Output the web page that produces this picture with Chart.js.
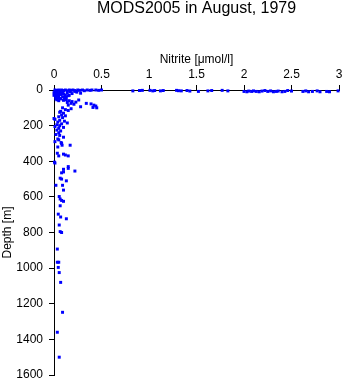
<!DOCTYPE html>
<html>
<head>
<meta charset="utf-8">
<script src="https://cdn.jsdelivr.net/npm/chart.js@4/dist/chart.umd.min.js"></script>
<style>
    html, body { margin: 0; padding: 0; background: #fff; }
    #chart { display: block; }
</style>
</head>
<body>
<canvas id="chart" width="345" height="384"></canvas>
<script>
var chartTitle = 'MODS2005 in August, 1979',
    xTitle = 'Nitrite [\u03bcmol/l]',
    yTitle = 'Depth [m]',
    nitriteTicks = [0, 0.5, 1, 1.5, 2, 2.5, 3],
    depthTicks = [0, 200, 400, 600, 800, 1000, 1200, 1400, 1600];

// nitrite values and matching depths
var nitrite = [
    // surface row
    0.01, 0.03, 0.05, 0.06, 0.08, 0.1, 0.12, 0.14, 0.16, 0.18, 0.2, 0.22, 0.25, 0.27, 0.3, 0.32, 0.35, 0.38, 0.4, 0.44, 0.47, 0.5,
    0.83, 0.9, 0.93, 1.01, 1.04, 1.06, 1.12, 1.15, 1.29, 1.31, 1.34, 1.4, 1.43, 1.52, 1.62, 1.66,
    1.77, 1.83, 2.0, 2.03, 2.05, 2.08, 2.1, 2.13, 2.16, 2.19, 2.22, 2.25, 2.28, 2.31, 2.34, 2.36, 2.4, 2.43, 2.46, 2.5,
    2.62, 2.65, 2.68, 2.72, 2.77, 2.8, 2.87, 2.9, 2.99,
    // upper 60 m
    0.01, 0.02, 0.04, 0.01, 0.06, 0.08, 0.03, 0.05, 0.1, 0.12, 0.14, 0.17, 0.19, 0.22, 0.02, 0.04, 0.07, 0.09, 0.11,
    0.03, 0.05, 0.15, 0.24, 0.28, 0.0, 0.02, 0.07, 0.13, 0.16,
    0.0, 0.03, 0.05, 0.09, 0.12, 0.02, 0.06, 0.1,
    // 55 - 120 m
    0.13, 0.16, 0.19, 0.14, 0.18, 0.21, 0.23, 0.15, 0.26, 0.28, 0.34, 0.39, 0.41, 0.44, 0.45, 0.42, 0.18, 0.12, 0.09, 0.15, 0.07,
    // 120 - 320 m
    0.06, 0.1, 0.08, 0.12, 0.05, 0.09, 0.0, 0.01, 0.06, 0.11, 0.04, 0.14, 0.08, 0.03, 0.06, 0.01, 0.1, 0.05,
    0.03, 0.07, 0.05, 0.02, 0.06, 0.1, 0.04, 0.05, 0.01, 0.075, 0.08, 0.085, 0.17, 0.04,
    // deeper
    0.035, 0.1, 0.12, 0.15, 0.05, 0.005, 0.01, 0.15, 0.15, 0.1, 0.22, 0.1, 0.08, 0.065, 0.08, 0.13, 0.02, 0.09, 0.1,
    0.055, 0.065, 0.08, 0.1, 0.065, 0.045, 0.07, 0.13, 0.055, 0.065, 0.08, 0.035, 0.035, 0.05, 0.045, 0.055, 0.07,
    0.09, 0.035, 0.055
];
var depth = [
    0, 2, 0, 5, 0, 3, 0, 4, 0, 2, 0, 3, 0, 2, 0, 4, 0, 2, 0, 0, 2, 0,
    5, 3, 2, 2, 5, 3, 5, 3, 2, 4, 5, 3, 6, 8, 5, 3,
    2, 5, 8, 10, 6, 8, 5, 8, 10, 6, 3, 8, 5, 10, 8, 6, 10, 8, 3, 6,
    8, 5, 10, 8, 5, 10, 8, 10, 5,
    10, 15, 20, 25, 12, 18, 30, 35, 22, 28, 15, 10, 20, 8, 40, 45, 50, 38, 42,
    55, 60, 32, 12, 18, 30, 35, 25, 40, 30,
    15, 8, 25, 12, 45, 50, 48, 58,
    55, 60, 65, 70, 75, 80, 68, 85, 56, 94, 75, 78, 98, 90, 100, 85, 105, 110, 100, 115, 120,
    125, 130, 140, 145, 150, 155, 160, 165, 170, 175, 180, 185, 190, 195, 200, 205, 210, 215,
    225, 230, 240, 250, 255, 265, 275, 280, 290, 295, 300, 310, 310, 320,
    355, 360, 365, 370, 370, 405, 410, 430, 440, 445, 455, 460, 465, 495, 500, 510, 535, 535, 562,
    598, 612, 620, 625, 650, 697, 713, 723, 758, 795, 800, 893, 967, 967, 996, 1025, 1080,
    1248, 1360, 1500
];

var points = [], i;
for (i = 0; i < nitrite.length; i += 1) {
    points.push({x: nitrite[i], y: depth[i]});
}

var font = '"Liberation Sans", Arial, Helvetica, sans-serif';
Chart.defaults.font.family = font;
Chart.defaults.color = '#000';

function useTicks(list) {
    return function (scale) {
        scale.ticks = list.map(function (v) { return {value: v}; });
    };
}

function plain(v) {
    return String(v);
}

new Chart(document.getElementById('chart').getContext('2d'), {
    type: 'scatter',
    data: {
        datasets: [{
            data: points,
            backgroundColor: '#0000ff',
            borderWidth: 0,
            pointStyle: 'rect',
            pointRadius: 2.1,
            clip: false
        }]
    },
    options: {
        responsive: false,
        animation: false,
        events: [],
        layout: {padding: {left: 0, right: 6, top: 0, bottom: 9}},
        plugins: {
            legend: {display: false},
            tooltip: {enabled: false},
            title: {
                display: true,
                text: chartTitle,
                fullSize: false,
                color: '#000',
                font: {size: 16, weight: 'normal', lineHeight: 1.1},
                padding: {top: 0, bottom: 0}
            }
        },
        scales: {
            x: {
                type: 'linear',
                position: 'top',
                min: 0,
                max: 3,
                afterBuildTicks: useTicks(nitriteTicks),
                afterFit: function (s) {
                    s.height = 72.4;
                    s.paddingLeft = 0;
                    s.paddingRight = 0;
                },
                ticks: {font: {size: 12}, padding: 3, maxRotation: 0, color: '#000', callback: plain},
                grid: {drawOnChartArea: false, tickLength: 5, color: '#000'},
                border: {color: '#000', width: 1},
                title: {display: true, text: xTitle, font: {size: 12}, padding: {top: 35, bottom: 0}, color: '#000'}
            },
            y: {
                type: 'linear',
                min: 0,
                max: 1600,
                reverse: true,
                afterBuildTicks: useTicks(depthTicks),
                afterFit: function (s) {
                    s.width = 54;
                    s.paddingTop = 0;
                    s.paddingBottom = 0;
                },
                ticks: {font: {size: 12}, padding: 6, color: '#000', callback: plain},
                grid: {drawOnChartArea: false, tickLength: 5, color: '#000'},
                border: {color: '#000', width: 1},
                title: {display: true, text: yTitle, font: {size: 12}, padding: 0, color: '#000'}
            }
        }
    }
});
</script>
</body>
</html>
